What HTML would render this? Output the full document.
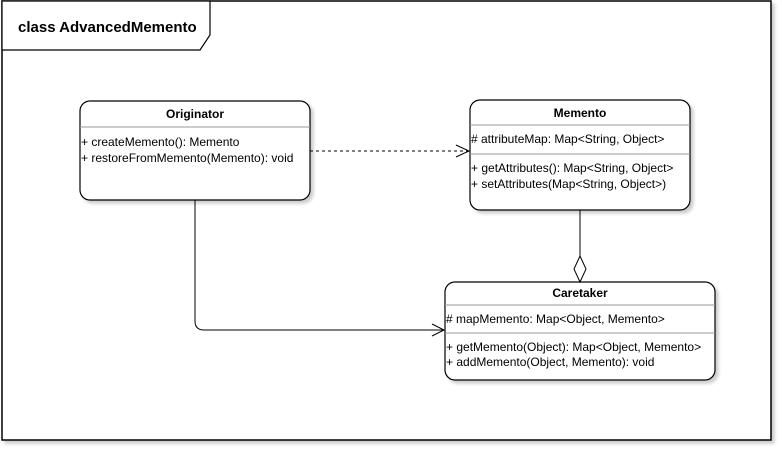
<!DOCTYPE html>
<html><head><meta charset="utf-8"><style>
html,body{margin:0;padding:0;background:#fff;}
svg{display:block;}
text{font-family:"Liberation Sans",Arial,sans-serif;font-size:12px;fill:#000;}
.b{font-weight:bold;}
</style></head><body>
<svg width="782" height="452" viewBox="0 0 782 452" xmlns="http://www.w3.org/2000/svg">
<defs>
<filter id="sh" x="-10%" y="-10%" width="130%" height="130%">
<feGaussianBlur in="SourceAlpha" stdDeviation="1.5"/><feOffset dx="3" dy="3"/>
<feComponentTransfer><feFuncA type="linear" slope="0.2"/></feComponentTransfer>
<feMerge><feMergeNode/><feMergeNode in="SourceGraphic"/></feMerge></filter>
</defs>
<rect x="2" y="1" width="769" height="439" fill="#fff" stroke="#000" stroke-width="1.5" filter="url(#sh)"/>
<path d="M2 1 H210 V35 L200 50 H2 Z" fill="#fff" stroke="#000" stroke-width="1.2"/>
<text x="18" y="32" class="b" style="font-size:15px">class AdvancedMemento</text>

<g filter="url(#sh)" fill="#fff" stroke="#000" stroke-width="1.2">
<rect x="80" y="101" width="230" height="99" rx="10"/>
<rect x="470" y="100" width="220" height="110" rx="10"/>
<rect x="445" y="282" width="270" height="98" rx="10"/>
</g>
<g stroke="#999" stroke-width="1">
<line x1="80" y1="127" x2="310" y2="127"/>
<line x1="470" y1="125" x2="690" y2="125"/>
<line x1="470" y1="154" x2="690" y2="154"/>
<line x1="445" y1="305" x2="715" y2="305"/>
<line x1="445" y1="333" x2="715" y2="333"/>
</g>
<text x="195" y="118" class="b" text-anchor="middle">Originator</text>
<text x="81" y="146">+ createMemento(): Memento</text>
<text x="81" y="162">+ restoreFromMemento(Memento): void</text>

<text x="580" y="117" class="b" text-anchor="middle">Memento</text>
<text x="471" y="143"># attributeMap: Map&lt;String, Object&gt;</text>
<text x="471" y="172">+ getAttributes(): Map&lt;String, Object&gt;</text>
<text x="471" y="188">+ setAttributes(Map&lt;String, Object&gt;)</text>

<text x="580" y="297" class="b" text-anchor="middle">Caretaker</text>
<text x="446" y="323"># mapMemento: Map&lt;Object, Memento&gt;</text>
<text x="446" y="351">+ getMemento(Object): Map&lt;Object, Memento&gt;</text>
<text x="446" y="366">+ addMemento(Object, Memento): void</text>

<g fill="none" stroke="#000" stroke-width="1">
<line x1="310" y1="151" x2="468" y2="151" stroke-dasharray="3,3"/>
<path d="M456 145 L469 151 L456 157"/>
<path d="M195 200 V321 Q195 330 204 330 H444"/>
<path d="M432 324 L444 330 L432 336"/>
<line x1="580" y1="210" x2="580" y2="256"/>
<path d="M580 256 L586 269 L580 282 L574 269 Z" fill="#fff"/>
</g>
</svg>
</body></html>
